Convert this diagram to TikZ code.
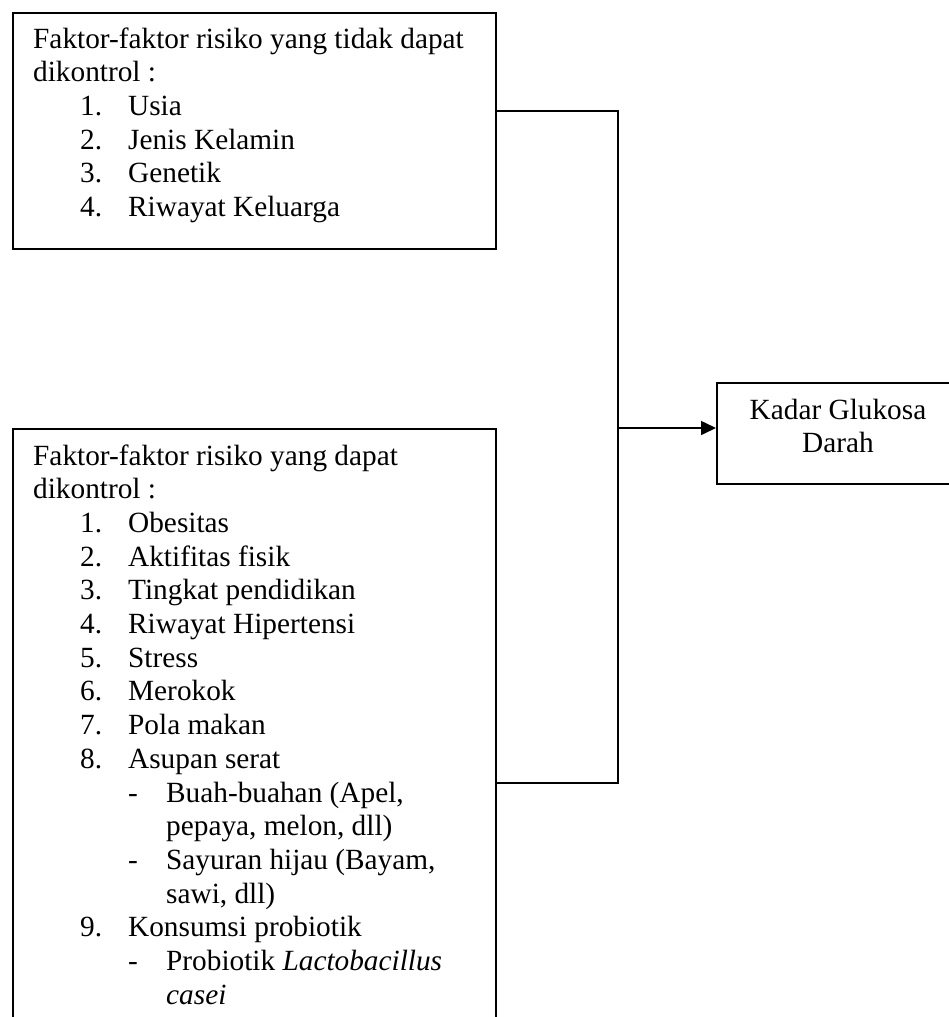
\documentclass[tikz,border=0pt]{standalone}
\usepackage{fontspec}
\setmainfont{Liberation Serif}
\usetikzlibrary{arrows.meta}
\newcommand\fitem[2]{\hspace*{47pt}\makebox[48pt][l]{#1}#2}
\newcommand\fsub[1]{\hspace*{95pt}\makebox[38pt][l]{-}#1}
\newcommand\fcont[1]{\hspace*{133pt}#1}
\begin{document}
\begin{tikzpicture}[x=1pt,y=-1pt,
  box/.style={draw, line width=1.5pt, inner sep=0pt, anchor=north west},
  txt/.style={inner sep=0pt, font=\fontsize{29.3pt}{33.7pt}\selectfont},
  conn/.style={line width=1.6pt},
  arr/.style={-{Triangle[length=15pt,width=14pt]}}]
\useasboundingbox (0,0) rectangle (949,1017);
% boxes
\node[box, minimum width=483pt, minimum height=236pt] (top) at (12,12) {};
\node[box, minimum width=483pt, minimum height=620pt] (bot) at (12,428) {};
\node[box, minimum width=244pt, minimum height=101pt] (kadar) at (716,382) {};
% texts
\node[txt, anchor=base west] (toptext) at (33,48) {\parbox[t]{460pt}{\raggedright
Faktor-faktor risiko yang tidak dapat\\
dikontrol :\\
\fitem{1.}{Usia}\\
\fitem{2.}{Jenis Kelamin}\\
\fitem{3.}{Genetik}\\
\fitem{4.}{Riwayat Keluarga}}};
\node[txt, anchor=base west] (bottext) at (33,465) {\parbox[t]{460pt}{\raggedright
Faktor-faktor risiko yang dapat\\
dikontrol :\\
\fitem{1.}{Obesitas}\\
\fitem{2.}{Aktifitas fisik}\\
\fitem{3.}{Tingkat pendidikan}\\
\fitem{4.}{Riwayat Hipertensi}\\
\fitem{5.}{Stress}\\
\fitem{6.}{Merokok}\\
\fitem{7.}{Pola makan}\\
\fitem{8.}{Asupan serat}\\
\fsub{Buah-buahan (Apel,}\\
\fcont{pepaya, melon, dll)}\\
\fsub{Sayuran hijau (Bayam,}\\
\fcont{sawi, dll)}\\
\fitem{9.}{Konsumsi probiotik}\\
\fsub{Probiotik \textit{Lactobacillus}}\\
\fcont{\textit{casei}}}};
\node[txt, anchor=base] (kadartext) at (838,419) {\parbox[t]{240pt}{\centering
Kadar Glukosa\\Darah}};
% connectors
\coordinate (j) at (618,428);
\draw[conn] ([yshift=-99pt]top.north east) -| (j);
\draw[conn] ([yshift=-355pt]bot.north east) -| (j);
\draw[conn, arr] (j) -- (kadar.west |- j);
\end{tikzpicture}
\end{document}
